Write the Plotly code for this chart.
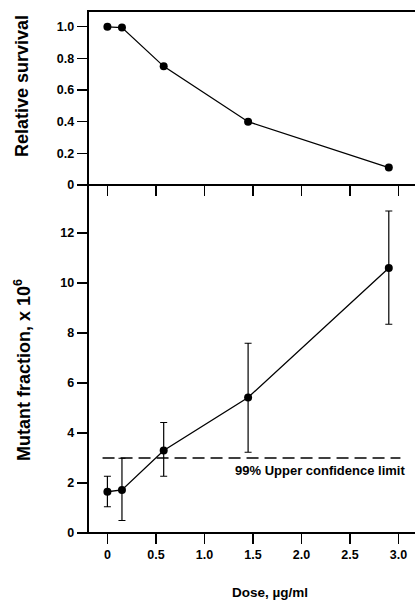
import plotly.graph_objects as go

# Data
dose = [0.0, 0.15, 0.58, 1.45, 2.9]
survival = [1.0, 0.995, 0.75, 0.40, 0.11]
mutant = [1.65, 1.72, 3.3, 5.42, 10.6]
mutant_err_plus = [0.62, 1.27, 1.12, 2.17, 2.28]
mutant_err_minus = [0.6, 1.22, 1.03, 2.19, 2.25]
ucl_value = 3.0
ucl_x = [-0.05, 3.02]
ucl_label = "99% Upper confidence limit"

x_ticks = [0, 0.5, 1.0, 1.5, 2.0, 2.5, 3.0]
x_ticklabels = ["0", "0.5", "1.0", "1.5", "2.0", "2.5", "3.0"]
surv_ticks = [0, 0.2, 0.4, 0.6, 0.8, 1.0]
surv_ticklabels = ["0", "0.2", "0.4", "0.6", "0.8", "1.0"]
mut_ticks = [0, 2, 4, 6, 8, 10, 12]
mut_ticklabels = ["0", "2", "4", "6", "8", "10", "12"]

FONT = "Liberation Sans, Arial, sans-serif"
W, H = 415, 600
ML, MR, MT, MB = 88, 0, 11, 67
PW, PH = W - ML - MR, H - MT - MB
SPLIT = 348 / PH

fig = go.Figure()

fig.add_trace(go.Scatter(
    x=dose, y=survival, mode="lines+markers",
    line=dict(color="black", width=1.3),
    marker=dict(color="black", size=8),
    xaxis="x2", yaxis="y2", showlegend=False, cliponaxis=False,
))

fig.add_trace(go.Scatter(
    x=ucl_x, y=[ucl_value, ucl_value], mode="lines",
    line=dict(color="black", width=1.3, dash="12px,6px"),
    xaxis="x", yaxis="y", showlegend=False,
))

fig.add_trace(go.Scatter(
    x=dose, y=mutant, mode="lines+markers",
    line=dict(color="black", width=1.3),
    marker=dict(color="black", size=8),
    error_y=dict(type="data", symmetric=False, array=mutant_err_plus,
                 arrayminus=mutant_err_minus, color="black", thickness=1.2, width=3.5),
    xaxis="x", yaxis="y", showlegend=False,
))

# Frame (left axis, bottom axis, panel divider, top border) on an overlay
# frame axis whose range is the unit square of the plotting area.
frame_x = [0, 0, None, 0, 1, None, 0, 1, None, 0, 1]
frame_y = [0, 1, None, 0, 0, None, SPLIT, SPLIT, None, 1, 1]
fig.add_trace(go.Scatter(
    x=frame_x, y=frame_y, mode="lines", connectgaps=False,
    line=dict(color="black", width=2),
    xaxis="x3", yaxis="y3", showlegend=False, cliponaxis=False, hoverinfo="skip",
))

tickfont = dict(family=FONT, size=12.5, color="black", weight="bold")
axis_common = dict(
    ticks="outside", ticklen=10, tickwidth=1.3, tickcolor="black",
    showline=True, linecolor="black", linewidth=1.3,
    showgrid=False, zeroline=False, tickfont=tickfont,
)

fig.update_layout(
    width=W, height=H,
    margin=dict(l=ML, r=MR, t=MT, b=MB, autoexpand=False),
    plot_bgcolor="rgba(0,0,0,0)", paper_bgcolor="white",
    font=dict(family=FONT, color="black"),
    xaxis=dict(
        range=[-0.2, 3.17], domain=[0, 1], anchor="y",
        tickmode="array", tickvals=x_ticks, ticktext=x_ticklabels,
        **axis_common,
    ),
    xaxis2=dict(
        range=[-0.2, 3.17], domain=[0, 1], anchor="y2",
        tickmode="array", tickvals=x_ticks, ticktext=x_ticklabels,
        showticklabels=False, mirror=True,
        **axis_common,
    ),
    yaxis=dict(
        range=[0, 13.92], domain=[0, SPLIT], anchor="x",
        tickmode="array", tickvals=mut_ticks, ticktext=mut_ticklabels,
        **axis_common,
    ),
    yaxis2=dict(
        range=[0, 1.1], domain=[SPLIT, 1], anchor="x2",
        tickmode="array", tickvals=surv_ticks, ticktext=surv_ticklabels,
        **axis_common,
    ),
    xaxis3=dict(range=[0, 1], domain=[0, 1], anchor="y3", visible=False, fixedrange=True),
    yaxis3=dict(range=[0, 1], domain=[0, 1], anchor="x3", visible=False, fixedrange=True),
)

fig.add_annotation(
    text=ucl_label, x=2.19, y=2.5, xref="x", yref="y",
    showarrow=False, font=dict(family=FONT, size=13, color="black", weight="bold"),
)
fig.add_annotation(
    text="Dose, µg/ml",
    x=(270 - ML) / PW, xref="paper", xanchor="center",
    y=(H - MB - 592) / PH, yref="paper", yanchor="middle",
    showarrow=False, font=dict(family=FONT, size=13.5, color="black", weight="bold"),
)
fig.add_annotation(
    text="Relative survival", textangle=-90,
    x=(22 - ML) / PW, xref="paper", xanchor="center",
    y=(H - MB - 86) / PH, yref="paper", yanchor="middle",
    showarrow=False, font=dict(family=FONT, size=18, color="black", weight="bold"),
)
fig.add_annotation(
    text="Mutant fraction, x 10<sup>6</sup>", textangle=-90,
    x=(22 - ML) / PW, xref="paper", xanchor="center",
    y=(H - MB - 370) / PH, yref="paper", yanchor="middle",
    showarrow=False, font=dict(family=FONT, size=18, color="black", weight="bold"),
)

fig.write_html("out.html", config={"displayModeBar": False, "staticPlot": True},
               post_script="document.body.style.margin='0';")
